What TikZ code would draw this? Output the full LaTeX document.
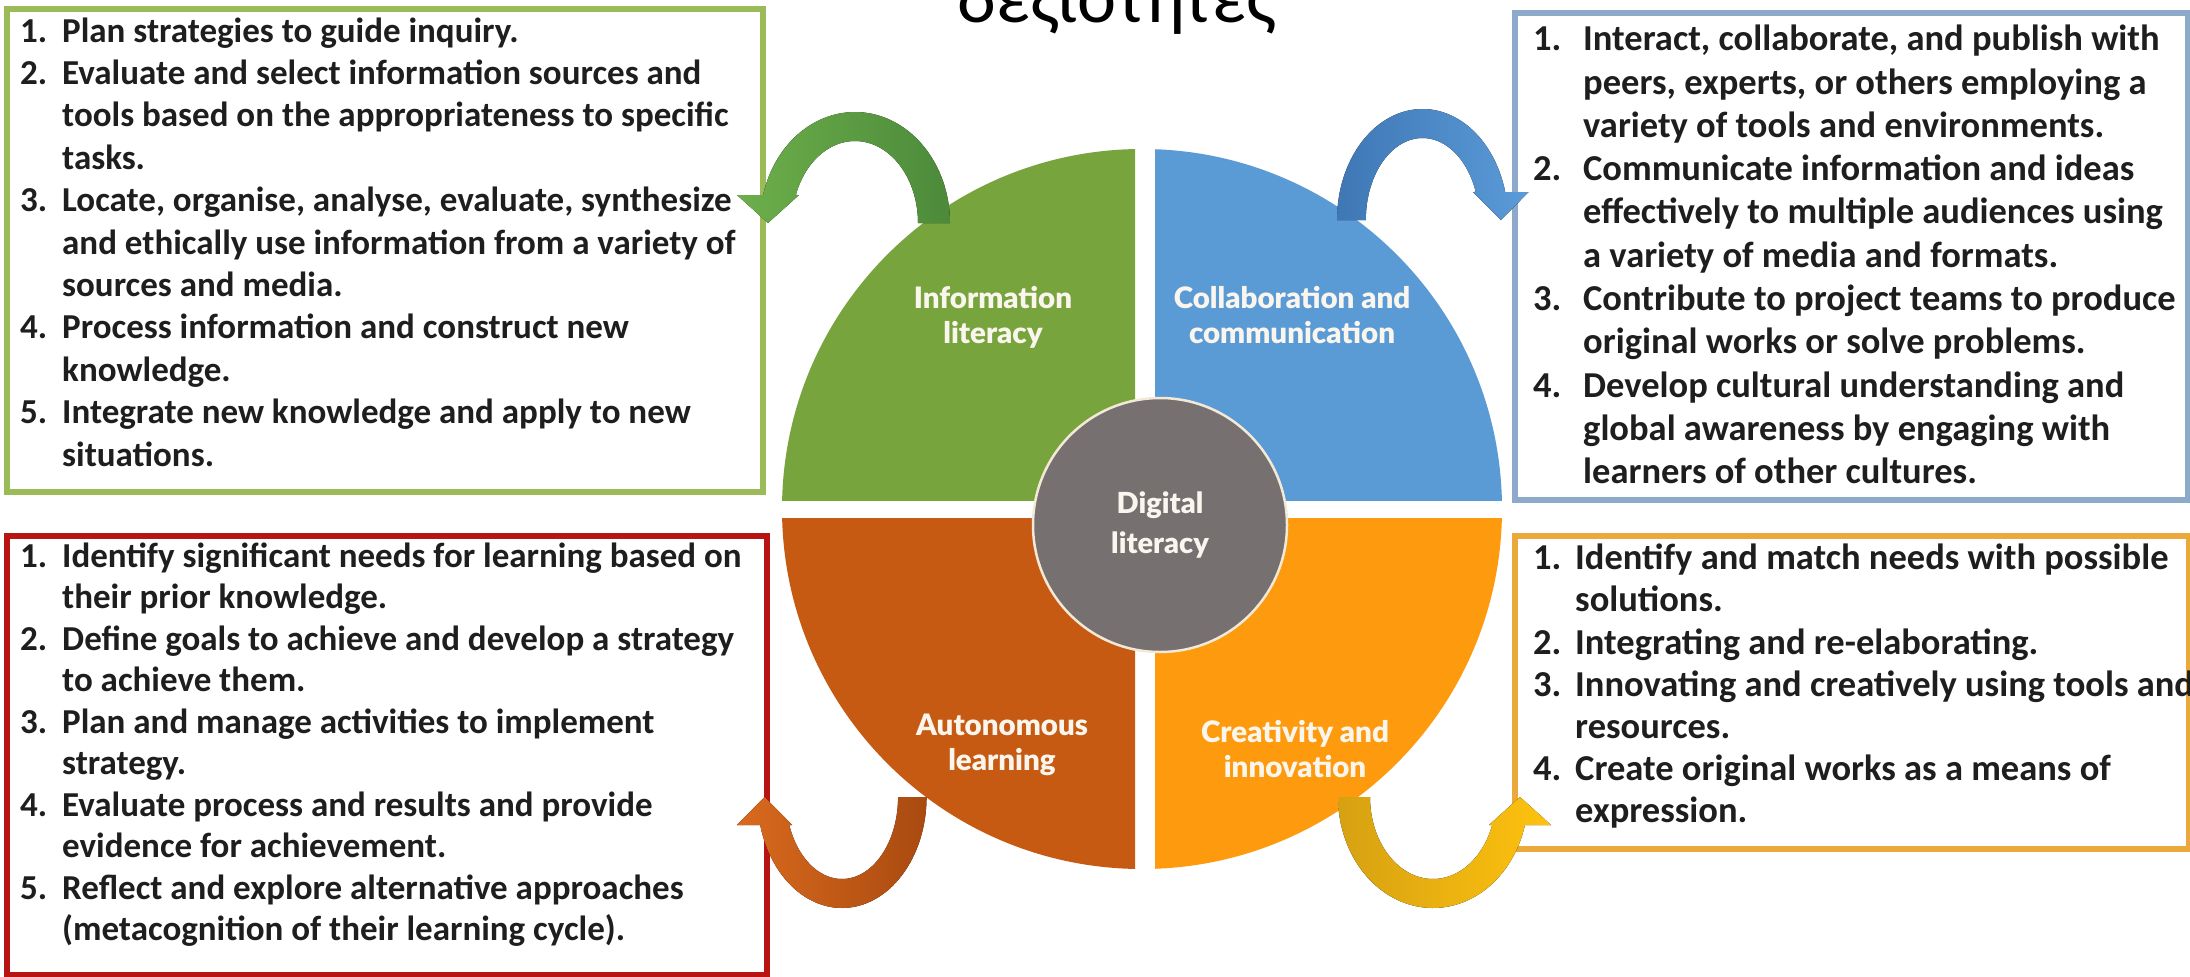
\documentclass[tikz,border=0pt]{standalone}
\usepackage{fontspec}
\setmainfont{Carlito}
\IfFontExistsTF{Lato Black}
  {\newfontfamily\latofont{Lato Black}\newcommand\lblsize{29.5}\newcommand\digsize{29}}
  {\newcommand\latofont{\bfseries}\newcommand\lblsize{34}\newcommand\digsize{31.5}}
\definecolor{qgreen}{HTML}{78A43E}
\definecolor{qblue}{HTML}{5B9BD5}
\definecolor{qbrown}{HTML}{C65A12}
\definecolor{qorange}{HTML}{FD9A0E}
\definecolor{qgrey}{HTML}{767070}
\definecolor{ringcream}{HTML}{F3E9D6}
\definecolor{labelwhite}{HTML}{FAF6EE}
\definecolor{bgreen}{HTML}{9BBB59}
\definecolor{bblue}{HTML}{8EAACB}
\definecolor{bred}{HTML}{B81414}
\definecolor{borange}{HTML}{EAA93A}
\definecolor{txt}{HTML}{1E1E1E}
\definecolor{agreenL}{HTML}{6DAF4B}
\definecolor{agreenD}{HTML}{4C8A3A}
\definecolor{ablueL}{HTML}{5A9BD8}
\definecolor{ablueD}{HTML}{3F77B5}
\definecolor{abrownL}{HTML}{DA6A1E}
\definecolor{abrownD}{HTML}{A94A10}
\definecolor{ayelL}{HTML}{FFC20E}
\definecolor{ayelD}{HTML}{D6A112}
\tikzset{
  boxtext/.style={anchor=north west, inner sep=0pt, text=txt},
  lefttext/.style={boxtext, font=\fontsize{35}{42.4}\selectfont\bfseries},
  frame/.style={line width=6pt, fill=white, anchor=north west, inner sep=0pt},
  quadlabel/.style={align=center, text=labelwhite, inner sep=0pt,
    font=\latofont\fontsize{\lblsize}{35}\selectfont},
}
% curved arrow: cx, cy, sx, sy, left colour, right colour
\newcommand\curvarrow[6]{%
  \fill[left color=#5, right color=#6]
    plot[domain=0:-165.39, samples=60, variable=\x]
      ({#1+(#3)*95*cos(\x)}, {#2+(#4)*111*sin(\x)})
    -- ({#1-(#3)*118}, {#2-(#4)*28})
    -- ({#1-(#3)*87}, {#2})
    -- ({#1-(#3)*56}, {#2-(#4)*28})
    -- plot[domain=-160.03:0, samples=60, variable=\x]
      ({#1+(#3)*63*cos(\x)}, {#2+(#4)*82*sin(\x)})
    -- cycle;}
\begin{document}
\begin{tikzpicture}[x=1pt,y=-1pt]
\useasboundingbox (0,0) rectangle (2190,977);
\fill[white] (0,0) rectangle (2190,977);

% title (cut by the top edge)
\begin{scope}
  \clip (0,0) rectangle (2190,977);
  \node[anchor=base, inner sep=0pt, font=\fontsize{74}{84}\selectfont] (title) at (1117,22) {δεξιότητες};
\end{scope}

% quadrants
\begin{scope}
  \clip (0,0) rectangle (1135,500);
  \fill[qgreen] (1142,509) circle[radius=360pt];
\end{scope}
\begin{scope}
  \clip (1155,0) rectangle (2190,500);
  \fill[qblue] (1142,509) circle[radius=360pt];
\end{scope}
\begin{scope}
  \clip (0,518) rectangle (1135,977);
  \fill[qbrown] (1142,509) circle[radius=360pt];
\end{scope}
\begin{scope}
  \clip (1155,518) rectangle (2190,977);
  \fill[qorange] (1142,509) circle[radius=360pt];
\end{scope}

\node[quadlabel] (info) at (993,317) {Information\\literacy};
\node[quadlabel] (collab) at (1292,315) {Collaboration and\\communication};
\node[quadlabel] (auton) at (1002,745) {Autonomous\\learning};
\node[quadlabel] (creat) at (1295,749) {Creativity and\\innovation};

\node[circle, minimum size=254pt, inner sep=0pt, fill=qgrey, draw=ringcream, line width=2.5pt,
      align=center, text=labelwhite, font=\latofont\fontsize{\digsize}{40}\selectfont]
      (dig) at (1160,525) {Digital\\literacy};

% boxes
\node[frame, draw=bgreen, minimum width=756pt, minimum height=483pt] (boxG) at (4,6) {};
\node[frame, draw=bblue, minimum width=673pt, minimum height=487pt] (boxB) at (1512,10) {};
\node[frame, draw=bred, minimum width=760pt, minimum height=439pt] (boxR) at (4,533) {};
\node[frame, draw=borange, minimum width=674pt, minimum height=313pt] (boxO) at (1512,533) {};

\node[lefttext] (txtG) at (20,12.3) {\begin{tabular}{@{}p{42pt}@{}l@{}}
1. & Plan strategies to guide inquiry.\\
2. & Evaluate and select information sources and\\
   & tools based on the appropriateness to specific\\
   & tasks.\\
3. & Locate, organise, analyse, evaluate, synthesize\\
   & and ethically use information from a variety of\\
   & sources and media.\\
4. & Process information and construct new\\
   & knowledge.\\
5. & Integrate new knowledge and apply to new\\
   & situations.
\end{tabular}};

\node[boxtext, font=\fontsize{36.5}{43.3}\selectfont\bfseries] (txtB) at (1533,20.2) {\begin{tabular}{@{}p{50pt}@{}l@{}}
1. & Interact, collaborate, and publish with\\
   & peers, experts, or others employing a\\
   & variety of tools and environments.\\
2. & Communicate information and ideas\\
   & effectively to multiple audiences using\\
   & a variety of media and formats.\\
3. & Contribute to project teams to produce\\
   & original works or solve problems.\\
4. & Develop cultural understanding and\\
   & global awareness by engaging with\\
   & learners of other cultures.
\end{tabular}};

\node[boxtext, font=\fontsize{35}{41.5}\selectfont\bfseries] (txtR) at (20,538) {\begin{tabular}{@{}p{42pt}@{}l@{}}
1. & Identify significant needs for learning based on\\
   & their prior knowledge.\\
2. & Define goals to achieve and develop a strategy\\
   & to achieve them.\\
3. & Plan and manage activities to implement\\
   & strategy.\\
4. & Evaluate process and results and provide\\
   & evidence for achievement.\\
5. & Reflect and explore alternative approaches\\
   & (metacognition of their learning cycle).
\end{tabular}};

\node[boxtext, font=\fontsize{36.5}{42.2}\selectfont\bfseries] (txtO) at (1533,540) {\begin{tabular}{@{}p{42pt}@{}l@{}}
1. & Identify and match needs with possible\\
   & solutions.\\
2. & Integrating and re-elaborating.\\
3. & Innovating and creatively using tools and\\
   & resources.\\
4. & Create original works as a means of\\
   & expression.
\end{tabular}};

% curved arrows
\curvarrow{855}{223}{1}{1}{agreenL}{agreenD}
\curvarrow{1422.5}{220}{-0.9}{1}{ablueD}{ablueL}
\curvarrow{842}{797}{0.89}{-1}{abrownL}{abrownD}
\curvarrow{1433}{797}{-1}{-1}{ayelD}{ayelL}
\end{tikzpicture}
\end{document}
